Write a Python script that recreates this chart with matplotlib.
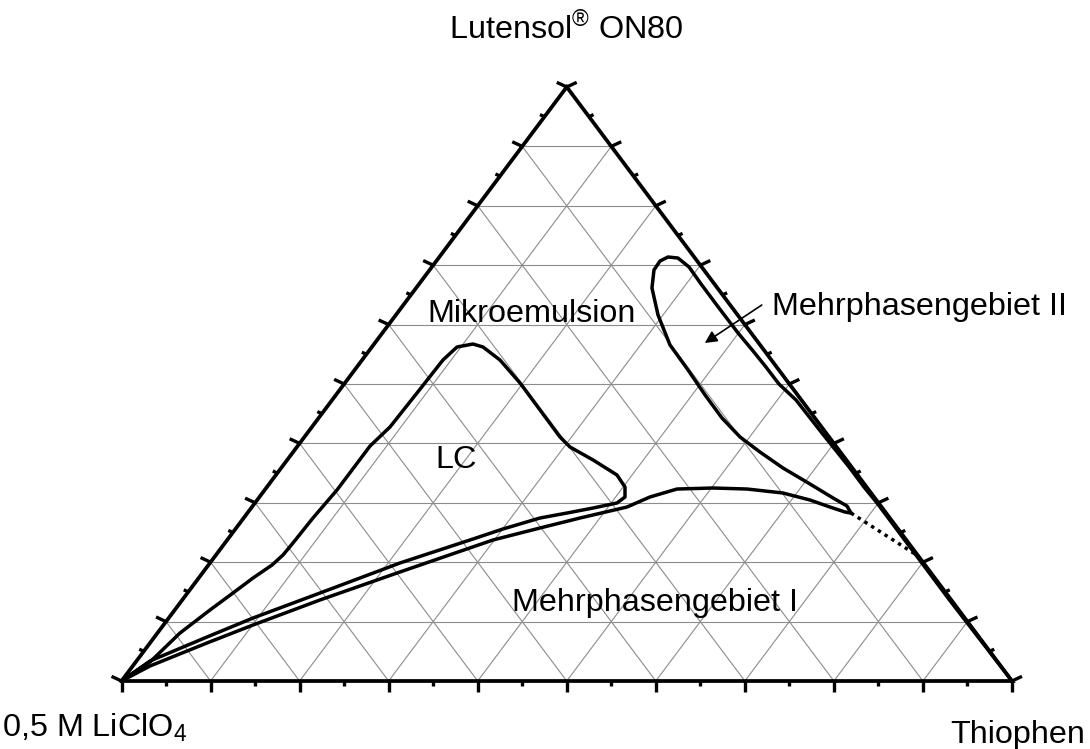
import numpy as np
import matplotlib
matplotlib.use('Agg')
import matplotlib.pyplot as plt

plt.rcParams['font.family'] = ['Liberation Sans', 'DejaVu Sans']
plt.rcParams['mathtext.fontset'] = 'custom'
plt.rcParams['mathtext.rm'] = 'Liberation Sans'

# compositions in % : Thiophen (right corner) and Lutensol ON80 (top corner)
# rest is 0,5 M LiClO4 (left corner)

# LC region (closed)
lc_thio = [0, 1.6, 2.53, 3.96, 5.11, 6.10, 7.14, 7.53, 7.64, 7.78, 8.12, 8.13,
           8.77, 8.94, 9.08, 9.56, 11.10, 12.48, 15.48, 19.67, 24.19, 28.70,
           30.67, 34.35, 38.30, 40.21, 41.05, 40.66, 38.39, 35.89, 33.28,
           30.04, 27.27, 21.34, 14.88, 9.47, 5.90, 1.52, 0]
lc_lut = [0, 3.2, 8.08, 11.95, 14.81, 17.34, 19.53, 21.21, 23.23, 27.44, 32.15,
          39.56, 42.76, 48.48, 54.04, 56.23, 56.73, 56.23, 54.04, 50.17, 45.62,
          41.08, 39.39, 37.21, 34.68, 32.66, 30.98, 29.97, 29.12, 28.28, 27.44,
          25.59, 23.74, 19.87, 14.81, 10.61, 7.41, 3.37, 0]

# boundary of Mehrphasengebiet I / II (from LiClO4 corner to Thiophen corner)
mp_thio = [0, 1.94, 6.40, 10.06, 15.47, 22.09, 29.85, 34.12, 37.77, 42.12,
           43.86, 46.22, 50.17, 54.08, 58.45, 62.08, 64.91, 67.02, 67.78,
           66.74, 64.50, 60.74, 56.35, 52.42, 48.92, 45.29, 41.46, 37.44,
           33.31, 29.44, 26.49, 25.20, 25.12, 25.68, 26.88, 28.88, 31.66,
           35.70, 39.94, 43.14, 45.94, 48.83, 52.09, 57.78, 63.69, 67.05,
           69.86, 86.16, 100]
mp_lut = [0, 2.53, 6.40, 9.43, 13.64, 18.35, 23.74, 25.76, 27.44, 29.29,
          30.98, 32.32, 32.49, 32.32, 31.65, 30.47, 29.29, 28.45, 28.28,
          29.46, 30.81, 33.16, 35.86, 38.55, 41.08, 44.28, 48.15, 52.36,
          56.57, 61.62, 66.16, 69.19, 70.71, 71.38, 71.21, 69.70, 66.84,
          62.79, 58.59, 55.56, 52.86, 50.0, 47.31, 41.75, 36.03, 32.66,
          29.97, 13.64, 0]

# dotted connection
tie_thio = [67.78, 79.0]
tie_lut = [28.28, 21.0]

corner_names = ['0,5 M LiClO$_4$', 'Thiophen', 'Lutensol$^{®}$ ON80']
region_names = ['Mikroemulsion', 'LC', 'Mehrphasengebiet I', 'Mehrphasengebiet II']


def tern(thio, lut):
    thio = np.asarray(thio) / 100.0
    lut = np.asarray(lut) / 100.0
    return thio + lut / 2, lut


W, H = 1090, 749
fig = plt.figure(figsize=(W / 100, H / 100), dpi=100)
# triangle: left corner (121.5, 681), right corner (1012, 681), top (566, 87) in pixels
pw, ph = 890.5, 594.0
ax = fig.add_axes([121.5 / W, (H - 681) / H, pw / W, ph / H])
ax.set_xlim(0, 1)
ax.set_ylim(0, 1)
ax.axis('off')

# grid
grid_kw = dict(color='#8c8c8c', lw=0.8, zorder=1)
for k in range(1, 10):
    f = k / 10
    ax.plot([f / 2, 1 - f / 2], [f, f], **grid_kw)
    ax.plot([f, f + (1 - f) / 2], [0, 1 - f], **grid_kw)
    ax.plot([1 - f, (1 - f) / 2], [0, 1 - f], **grid_kw)

# frame
ax.plot([0, 1, 0.5, 0], [0, 0, 1, 0], color='black', lw=2.7, zorder=5,
        solid_joinstyle='miter', clip_on=False)

# ticks
th = np.deg2rad(25)
for k in range(21):
    f = k / 20
    L = 11 if k % 2 == 0 else 5
    tk = dict(color='black', lw=2.4, zorder=5, clip_on=False, solid_capstyle='butt')
    ax.plot([f, f], [0, -L / ph], **tk)
    x0, y0 = f / 2, f
    ax.plot([x0, x0 - L * np.cos(th) / pw], [y0, y0 + L * np.sin(th) / ph], **tk)
    x0 = 1 - f / 2
    ax.plot([x0, x0 + L * np.cos(th) / pw], [y0, y0 + L * np.sin(th) / ph], **tk)

# phase boundaries
x, y = tern(lc_thio, lc_lut)
ax.plot(x, y, color='black', lw=2.5, zorder=4, solid_joinstyle='round')
x, y = tern(mp_thio, mp_lut)
ax.plot(x, y, color='black', lw=2.5, zorder=4, solid_joinstyle='round')
x, y = tern(tie_thio, tie_lut)
ax.plot(x, y, color='black', lw=2.5, zorder=4, linestyle=(0, (1, 1.3)))

# labels
fs = 23.3
ax.text(0.5, 1.097, corner_names[2], ha='center', va='center', fontsize=fs)
ax.text(-0.134, -0.094, corner_names[0], ha='left', va='baseline', fontsize=fs)
ax.text(1.082, -0.104, corner_names[1], ha='right', va='baseline', fontsize=fs)

ax.text(0.461, 0.604, region_names[0], ha='center', va='baseline', fontsize=fs)
ax.text(0.376, 0.3586, region_names[1], ha='center', va='baseline', fontsize=fs)
ax.text(0.599, 0.118, region_names[2], ha='center', va='baseline', fontsize=fs)
ax.text(0.7305, 0.616, region_names[3], ha='left', va='baseline', fontsize=fs)

ax.annotate('', xy=(0.655, 0.569), xytext=(0.719, 0.633),
            arrowprops=dict(arrowstyle='-|>', lw=1.2, color='black',
                            mutation_scale=18, shrinkA=0, shrinkB=0))

fig.savefig('out.png', dpi=100)
